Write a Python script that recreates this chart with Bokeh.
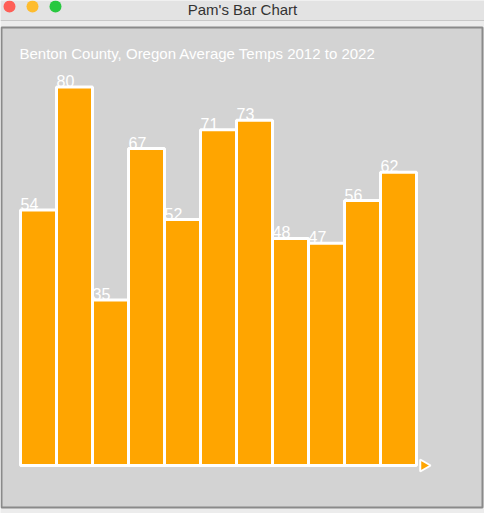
from bokeh.plotting import figure
from bokeh.models import Range1d, ColumnDataSource
from bokeh.core.properties import value
from bokeh.embed import file_html
from bokeh.resources import INLINE

# data
years = list(range(2012, 2023))
temps = [54, 80, 35, 67, 52, 71, 73, 48, 47, 56, 62]
title = "Benton County, Oregon Average Temps 2012 to 2022"

# screen pixel -> data helpers (for window decoration only)
def px(x):
    return (x - 46) / 36.0

def py(y):
    return (473 - y) / 4.73

W, H = 484, 513
p = figure(width=W, height=H, output_backend="svg", toolbar_location=None,
           x_range=Range1d(px(8), px(8 + W)), y_range=Range1d(py(8 + H), py(8)),
           min_border=0, tools="")
p.axis.visible = False
p.grid.visible = False
p.outline_line_color = None
p.background_fill_color = "#ececec"
p.border_fill_color = "#ececec"

# title bar
p.quad(left=px(8), right=px(492), top=py(8), bottom=py(28), fill_color="#e3e3e3", line_color=None)
p.segment(x0=px(8), x1=px(492), y0=py(28), y1=py(28), line_color="#c8c8c8")
p.scatter(x=[px(17), px(40), px(63)], y=[py(14)] * 3, size=12,
          fill_color=["#fe5f57", "#febc2e", "#28c840"], line_color=None)
p.text(x=[px(250)], y=[py(17)], text=["Pam's Bar Chart"], text_align="center",
       text_baseline="middle", text_font=value("Helvetica"), text_font_size="15px",
       text_color="#333333")

# canvas
p.quad(left=px(9), right=px(490), top=py(35), bottom=py(515), fill_color="#d3d3d3",
       line_color="#8a8a8a", line_width=2)

src = ColumnDataSource(dict(x=list(range(len(temps))), top=temps,
                            lx=[i - 0.5 for i in range(len(temps))],
                            lab=[str(t) for t in temps]))
p.vbar(x="x", top="top", bottom=0, width=1.0, source=src,
       fill_color="orange", line_color="white", line_width=3)
p.text(x="lx", y="top", text="lab", source=src, text_color="white",
       text_font=value("Helvetica"), text_font_size="16px", text_baseline="bottom")

p.text(x=[px(27)], y=[py(61)], text=[title], text_color="white",
       text_font=value("Helvetica"), text_font_size="15px", text_baseline="middle")

# turtle arrow
p.scatter(x=[len(temps) - 0.5 + 0.2], y=[0], marker="triangle", angle=-1.5708,
          size=12, fill_color="orange", line_color="white", line_width=2)

open("out.html", "w").write(file_html(p, INLINE))
